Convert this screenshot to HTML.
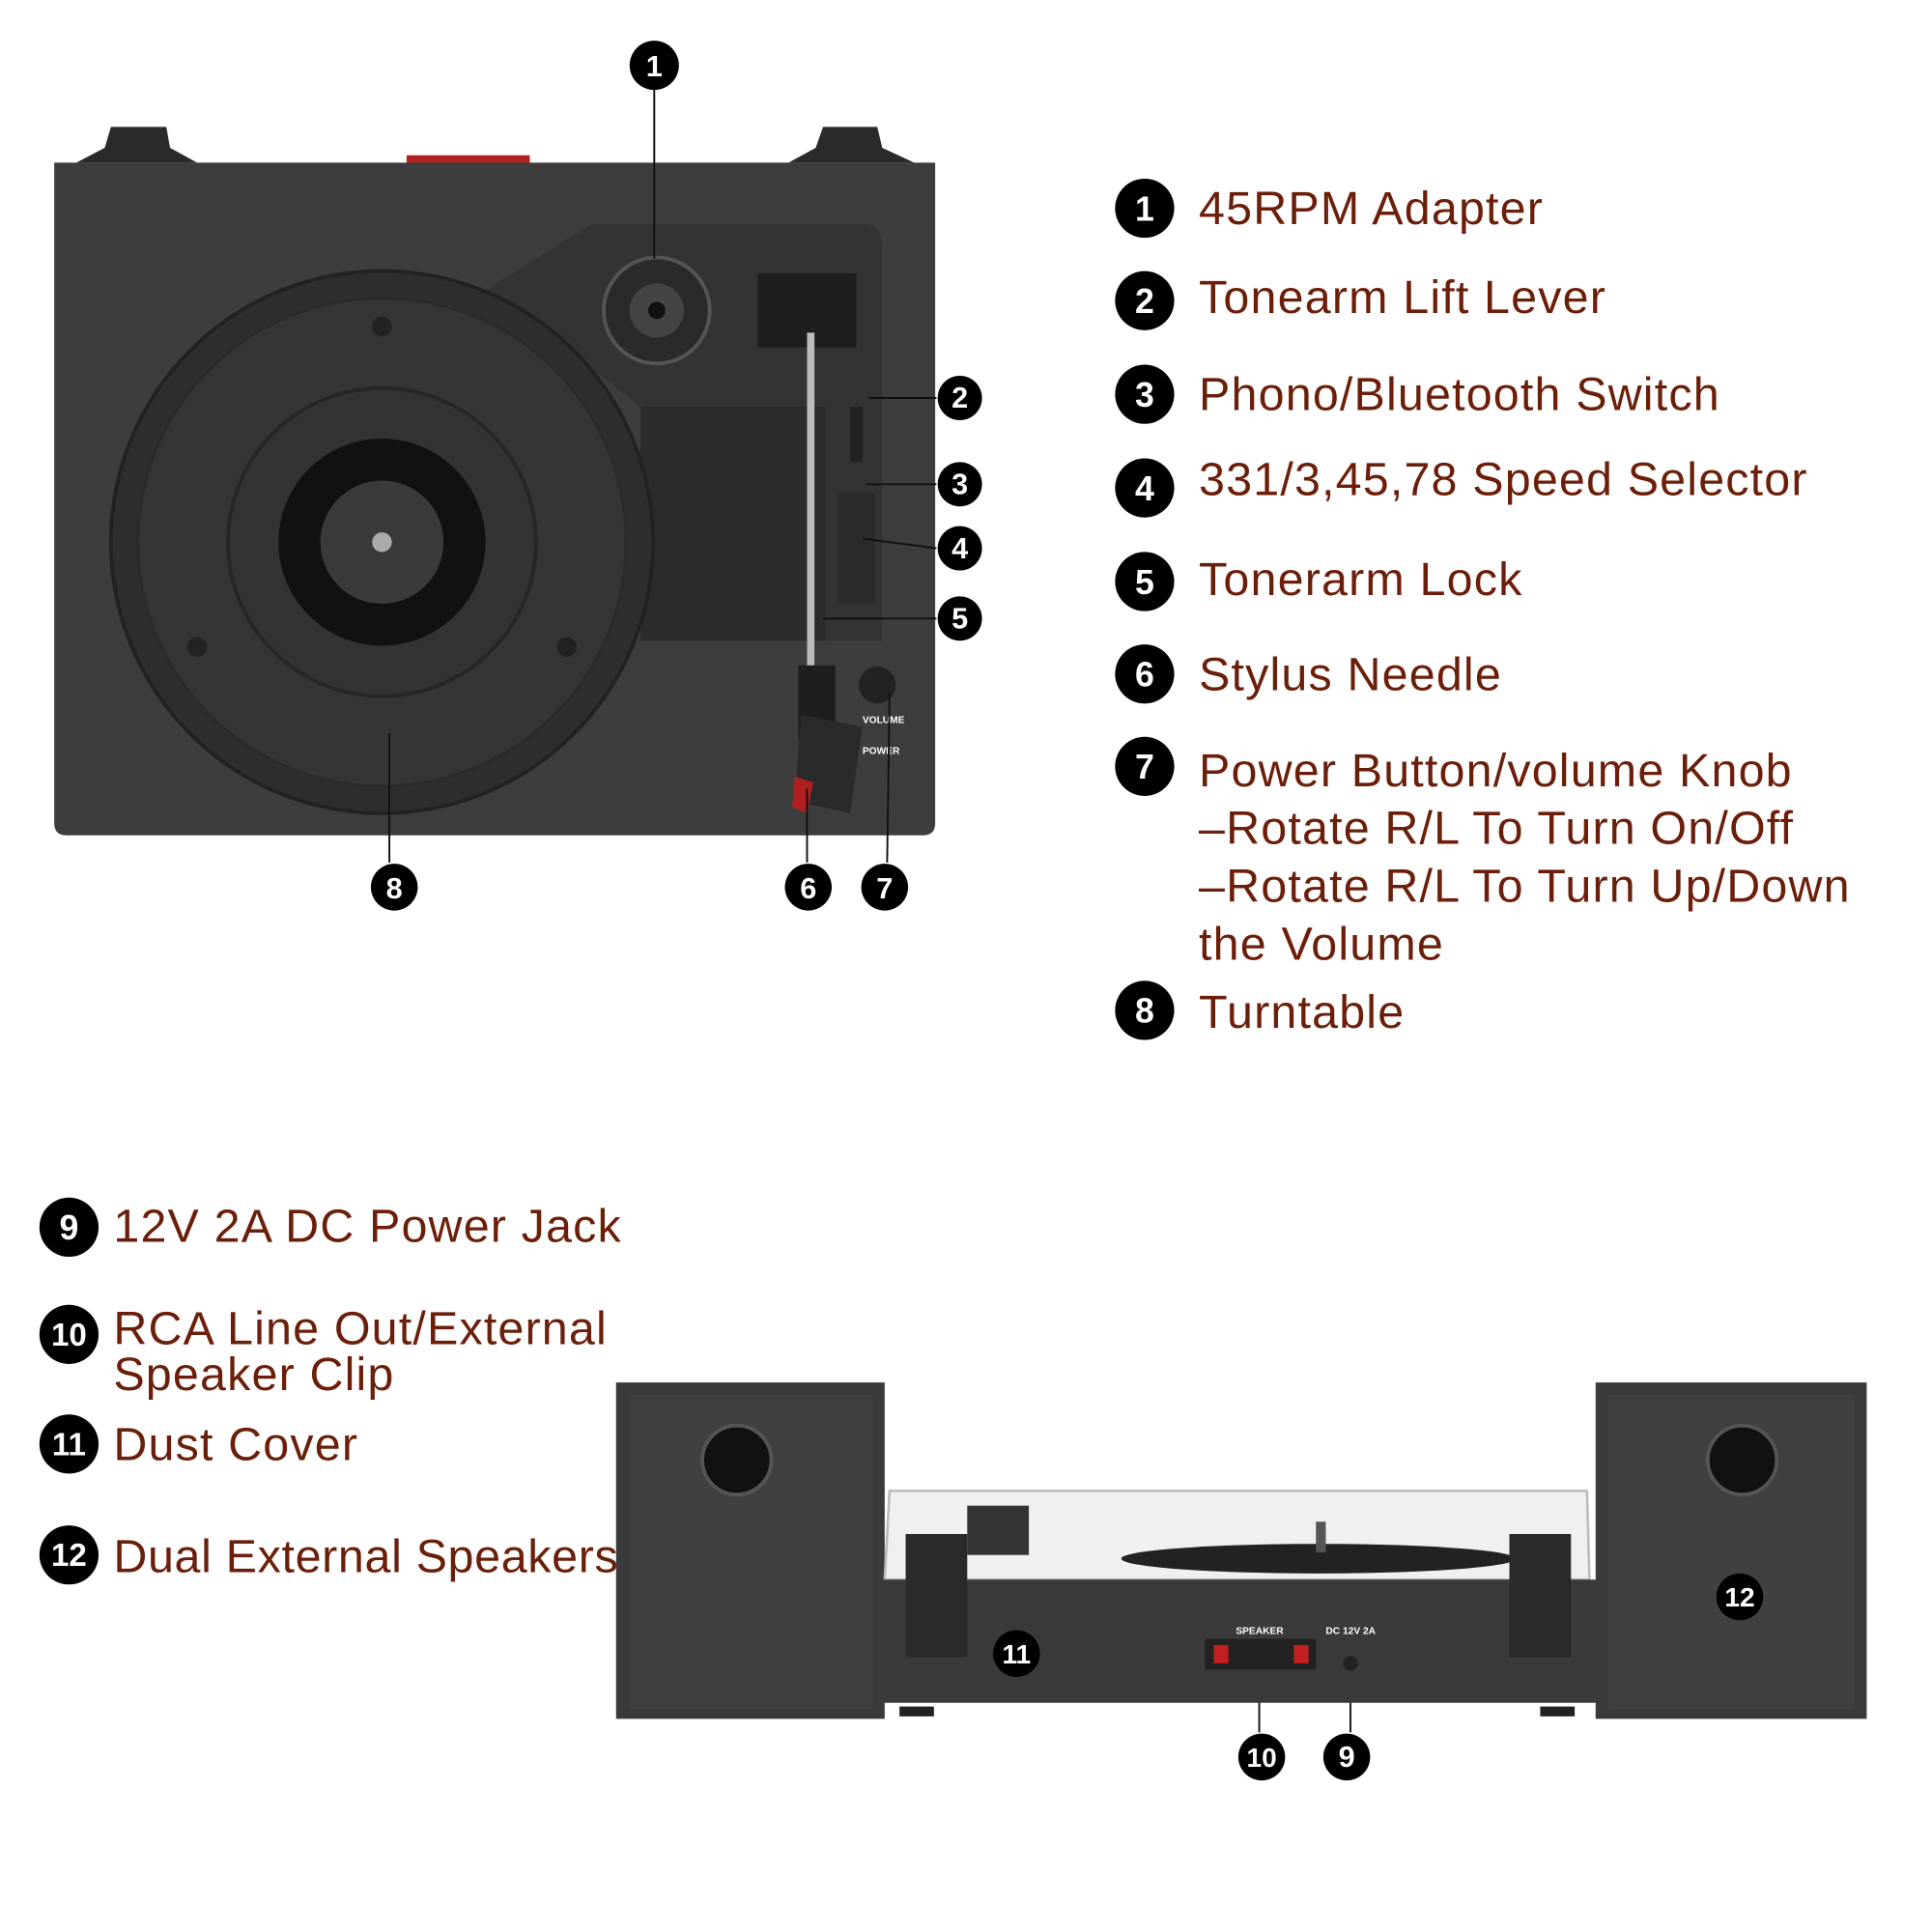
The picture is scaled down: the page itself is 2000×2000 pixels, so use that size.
<!DOCTYPE html>
<html><head><meta charset="utf-8"><style>
html,body{margin:0;padding:0;background:#fff;}
svg{display:block}
.t{font-family:"Liberation Sans",sans-serif;fill:#6b1f0a;font-size:38px;letter-spacing:0.9px;}
.n{font-family:"Liberation Sans",sans-serif;fill:#fff;font-weight:bold;font-size:24px;text-anchor:middle;}
.s{font-family:"Liberation Sans",sans-serif;fill:#fff;font-weight:bold;font-size:8px;}
</style></head><body>
<svg width="2000" height="2000" viewBox="0 0 1568 1568" xmlns="http://www.w3.org/2000/svg">
<rect width="1568" height="1568" fill="#fff"/>
<path d="M62 132 L85 120 L90 103 L135 103 L138 120 L160 132 Z" fill="#2a2a2a"/>
<path d="M640 132 L662 120 L668 103 L712 103 L716 120 L742 132 Z" fill="#2a2a2a"/>
<rect x="330" y="126" width="100" height="8" fill="#b02020"/>
<path d="M44 132 H759 V668 Q759 678 749 678 H54 Q44 678 44 668 Z" fill="#3d3d3d"/>
<path d="M395 235 L480 182 L700 182 Q716 182 716 200 L716 520 L520 520 L520 330 Z" fill="#333"/>
<rect x="520" y="330" width="150" height="190" fill="#2b2b2b"/>
<circle cx="310" cy="440" r="220" fill="#2e2e2e" stroke="#222" stroke-width="3"/>
<circle cx="310" cy="440" r="198" fill="#353535" stroke="#2a2a2a" stroke-width="2"/>
<circle cx="310" cy="440" r="125" fill="#333" stroke="#262626" stroke-width="3"/>
<circle cx="310" cy="440" r="84" fill="#111"/>
<circle cx="310" cy="440" r="50" fill="#3a3a3a"/>
<circle cx="310" cy="440" r="8" fill="#aaa"/>
<circle cx="310" cy="265" r="8" fill="#222"/>
<circle cx="160" cy="525" r="8" fill="#222"/>
<circle cx="460" cy="525" r="8" fill="#222"/>
<circle cx="533" cy="252" r="43" fill="#2a2a2a" stroke="#555" stroke-width="3"/>
<circle cx="533" cy="252" r="22" fill="#444"/>
<circle cx="533" cy="252" r="7" fill="#111"/>
<rect x="615" y="222" width="80" height="60" fill="#1e1e1e"/>
<rect x="655" y="270" width="6" height="280" fill="#bbb"/>
<rect x="648" y="540" width="30" height="60" fill="#1e1e1e"/>
<path d="M650 580 L700 590 L690 660 L645 650 Z" fill="#2a2a2a"/>
<path d="M645 630 L660 635 L655 660 L643 655 Z" fill="#b02020"/>
<rect x="690" y="330" width="10" height="45" fill="#222"/>
<rect x="680" y="400" width="30" height="90" fill="#2a2a2a"/>
<circle cx="712" cy="556" r="15" fill="#222"/>
<text x="700" y="587" class="s">VOLUME</text>
<text x="700" y="612" class="s">POWER</text>
<g stroke="#111" stroke-width="1.5" fill="none">
<line x1="531" y1="70" x2="531" y2="210"/>
<line x1="760" y1="323" x2="705" y2="323"/>
<line x1="760" y1="393" x2="703" y2="393"/>
<line x1="760" y1="445" x2="700" y2="437"/>
<line x1="760" y1="502" x2="668" y2="502"/>
<line x1="316" y1="700" x2="316" y2="595"/>
<line x1="655" y1="700" x2="655" y2="640"/>
<line x1="720" y1="700" x2="722" y2="562"/>
<line x1="822" y1="1323" x2="822" y2="1260"/>
<line x1="1022" y1="1406" x2="1022" y2="1355"/>
<line x1="1096" y1="1406" x2="1096" y2="1355"/>
</g>
<g fill="#000">
<circle cx="531" cy="53" r="20"/><circle cx="779" cy="323" r="18"/><circle cx="779" cy="393" r="18"/>
<circle cx="779" cy="445" r="18"/><circle cx="779" cy="502" r="18"/><circle cx="320" cy="720" r="19"/>
<circle cx="656" cy="720" r="19"/><circle cx="718" cy="720" r="19"/>
</g>
<text class="n" x="531" y="62">1</text><text class="n" x="779" y="331">2</text><text class="n" x="779" y="401">3</text>
<text class="n" x="779" y="453">4</text><text class="n" x="779" y="510">5</text><text class="n" x="320" y="729">8</text>
<text class="n" x="656" y="729">6</text><text class="n" x="718" y="729">7</text>
<g fill="#000">
<circle cx="929" cy="169" r="24"/><circle cx="929" cy="244" r="24"/><circle cx="929" cy="320" r="24"/>
<circle cx="929" cy="396" r="24"/><circle cx="929" cy="472" r="24"/><circle cx="929" cy="547" r="24"/>
<circle cx="929" cy="622" r="24"/><circle cx="929" cy="820" r="24"/>
</g>
<text class="n" style="font-size:28px" x="929" y="179">1</text><text class="n" style="font-size:28px" x="929" y="254">2</text>
<text class="n" style="font-size:28px" x="929" y="330">3</text><text class="n" style="font-size:28px" x="929" y="406">4</text>
<text class="n" style="font-size:28px" x="929" y="482">5</text><text class="n" style="font-size:28px" x="929" y="557">6</text>
<text class="n" style="font-size:28px" x="929" y="632">7</text><text class="n" style="font-size:28px" x="929" y="830">8</text>
<text class="t" x="973" y="182">45RPM Adapter</text>
<text class="t" x="973" y="254">Tonearm Lift Lever</text>
<text class="t" x="973" y="333">Phono/Bluetooth Switch</text>
<text class="t" x="973" y="402">331/3,45,78 Speed Selector</text>
<text class="t" x="973" y="483">Tonerarm Lock</text>
<text class="t" x="973" y="560">Stylus Needle</text>
<text class="t" x="973" y="638">Power Button/volume Knob</text>
<text class="t" x="973" y="685">–Rotate R/L To Turn On/Off</text>
<text class="t" x="973" y="732">–Rotate R/L To Turn Up/Down</text>
<text class="t" x="973" y="779">the Volume</text>
<text class="t" x="973" y="834">Turntable</text>
<g fill="#000">
<circle cx="56" cy="996" r="24"/><circle cx="56" cy="1083" r="24"/><circle cx="56" cy="1172" r="24"/><circle cx="56" cy="1262" r="24"/>
</g>
<text class="n" style="font-size:28px" x="56" y="1006">9</text>
<text class="n" style="font-size:26px" x="56" y="1092">10</text>
<text class="n" style="font-size:26px" x="56" y="1181">11</text>
<text class="n" style="font-size:26px" x="56" y="1271">12</text>
<text class="t" x="92" y="1008">12V 2A DC Power Jack</text>
<text class="t" x="92" y="1091">RCA Line Out/External</text>
<text class="t" x="92" y="1128">Speaker Clip</text>
<text class="t" x="92" y="1185">Dust Cover</text>
<text class="t" x="92" y="1276" style="letter-spacing:0.5px">Dual External Speakers</text>
<rect x="500" y="1122" width="218" height="273" fill="#3a3a3a"/>
<rect x="512" y="1132" width="196" height="255" fill="#404040"/>
<circle cx="598" cy="1185" r="28" fill="#111" stroke="#555" stroke-width="3"/>
<rect x="1295" y="1122" width="220" height="273" fill="#3a3a3a"/>
<rect x="1305" y="1132" width="200" height="255" fill="#404040"/>
<circle cx="1414" cy="1185" r="28" fill="#111" stroke="#555" stroke-width="3"/>
<path d="M722 1210 L1288 1210 L1290 1282 L718 1282 Z" fill="#eef0f2" stroke="#bbb" stroke-width="2"/>
<ellipse cx="1070" cy="1265" rx="160" ry="12" fill="#222"/>
<rect x="1068" y="1235" width="8" height="25" fill="#555"/>
<rect x="785" y="1222" width="50" height="40" fill="#333"/>
<rect x="716" y="1282" width="581" height="100" fill="#3a3a3a"/>
<rect x="730" y="1385" width="28" height="8" fill="#222"/><rect x="1250" y="1385" width="28" height="8" fill="#222"/>
<rect x="735" y="1245" width="50" height="100" fill="#2a2a2a"/>
<rect x="1225" y="1245" width="50" height="100" fill="#2a2a2a"/>
<rect x="978" y="1330" width="90" height="25" fill="#222"/>
<rect x="985" y="1335" width="12" height="15" fill="#c02020"/><rect x="1050" y="1335" width="12" height="15" fill="#c02020"/>
<text class="s" x="1003" y="1326">SPEAKER</text>
<text class="s" x="1076" y="1326">DC 12V 2A</text>
<circle cx="1096" cy="1350" r="6" fill="#222"/>
<g fill="#000"><circle cx="825" cy="1342" r="19"/><circle cx="1412" cy="1296" r="19"/><circle cx="1024" cy="1426" r="19"/><circle cx="1093" cy="1426" r="19"/></g>
<text class="n" style="font-size:22px" x="825" y="1350">11</text>
<text class="n" style="font-size:22px" x="1412" y="1304">12</text>
<text class="n" style="font-size:22px" x="1024" y="1434">10</text>
<text class="n" x="1093" y="1434">9</text>
</svg>
</body></html>
